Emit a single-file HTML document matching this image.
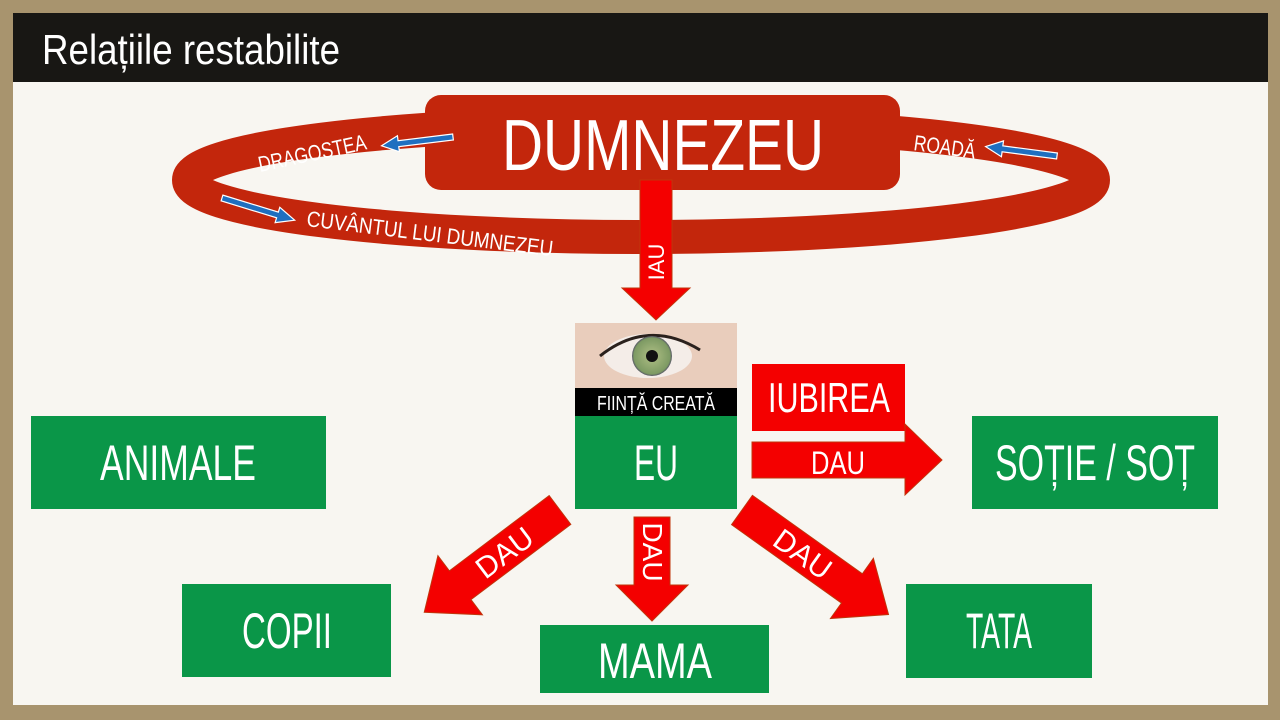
<!DOCTYPE html>
<html><head><meta charset="utf-8"><style>
html,body{margin:0;padding:0;background:#a8946e;}
svg{display:block}
text{font-family:"Liberation Sans Narrow","Liberation Sans",sans-serif;fill:#fff;}
</style></head><body>
<svg width="1280" height="720" viewBox="0 0 1280 720" xmlns="http://www.w3.org/2000/svg">
<defs>
<radialGradient id="eye" cx="0.5" cy="0.5" r="0.5">
<stop offset="0" stop-color="#222"/><stop offset="0.25" stop-color="#333"/><stop offset="0.3" stop-color="#9fb37a"/><stop offset="0.9" stop-color="#7d9a63"/><stop offset="1" stop-color="#556"/>
</radialGradient>
</defs>
<rect width="1280" height="720" fill="#a8946e"/>
<rect x="13" y="13" width="1255" height="692" fill="#f8f6f1"/>
<rect x="13" y="13" width="1255" height="69" fill="#181714"/>
<text x="42" y="64" font-size="42" textLength="298" lengthAdjust="spacingAndGlyphs">Relațiile restabilite</text>

<!-- ellipse ring -->
<ellipse cx="641" cy="180" rx="452" ry="57" fill="none" stroke="#c3260c" stroke-width="34"/>
<rect x="425" y="95" width="475" height="95" rx="16" fill="#c3260c"/>
<text x="663" y="170" font-size="72" text-anchor="middle" textLength="322" lengthAdjust="spacingAndGlyphs">DUMNEZEU</text>

<!-- ring labels -->
<text x="0" y="0" font-size="22" transform="translate(260,172) rotate(-12)" textLength="110" lengthAdjust="spacingAndGlyphs">DRAGOSTEA</text>
<text x="0" y="0" font-size="22" transform="translate(306,226) rotate(7)" textLength="248" lengthAdjust="spacingAndGlyphs">CUVÂNTUL LUI DUMNEZEU</text>
<text x="0" y="0" font-size="22" transform="translate(913,150) rotate(8)" textLength="62" lengthAdjust="spacingAndGlyphs">ROADĂ</text>

<!-- blue arrows -->
<g fill="#1f6fc0" stroke="#fff" stroke-width="1.2">
<polygon points="0,-3 -55,-3 -55,-8 -72,0 -55,8 -55,3 0,3" transform="translate(453,137) rotate(-7)"/>
<polygon points="0,-3 -55,-3 -55,-8 -72,0 -55,8 -55,3 0,3" transform="translate(1057,156) rotate(7.5)"/>
<polygon points="0,-3 58,-3 58,-8 76,0 58,8 58,3 0,3" transform="translate(222,198) rotate(17)"/>
</g>

<!-- IAU arrow -->
<polygon points="640,180 672,180 672,288 690,288 656,320 622,288 640,288" fill="#f40000" stroke="#c0350c" stroke-width="1"/>
<text x="0" y="0" font-size="22" transform="translate(664,262) rotate(-90)" text-anchor="middle">IAU</text>

<!-- eye image -->
<rect x="575" y="323" width="162" height="66" fill="#e9cdbc"/>
<ellipse cx="648" cy="356" rx="44" ry="22" fill="#f4ede8"/>
<path d="M600,356 Q648,318 700,350" stroke="#2a211d" stroke-width="3" fill="none"/>
<circle cx="652" cy="356" r="20" fill="url(#eye)"/>
<circle cx="652" cy="356" r="6" fill="#111"/>
<rect x="575" y="388" width="162" height="28" fill="#000"/>
<text x="656" y="410" font-size="20" text-anchor="middle" textLength="118" lengthAdjust="spacingAndGlyphs">FIINȚĂ CREATĂ</text>
<rect x="575" y="416" width="162" height="93" fill="#0a9648"/>
<text x="656" y="480" font-size="50" text-anchor="middle" textLength="44" lengthAdjust="spacingAndGlyphs">EU</text>

<!-- IUBIREA + DAU arrow -->
<rect x="752" y="364" width="153" height="67" fill="#f40000"/>
<text x="829" y="412" font-size="42" text-anchor="middle" textLength="122" lengthAdjust="spacingAndGlyphs">IUBIREA</text>
<polygon points="752,442 905,442 905,424 942,460 905,495 905,478 752,478" fill="#f40000" stroke="#c0350c" stroke-width="1"/>
<text x="838" y="474" font-size="32" text-anchor="middle" textLength="54" lengthAdjust="spacingAndGlyphs">DAU</text>

<!-- green boxes -->
<rect x="31" y="416" width="295" height="93" fill="#0a9648"/>
<text x="178" y="480" font-size="50" text-anchor="middle" textLength="156" lengthAdjust="spacingAndGlyphs">ANIMALE</text>
<rect x="972" y="416" width="246" height="93" fill="#0a9648"/>
<text x="1095" y="480" font-size="50" text-anchor="middle" textLength="200" lengthAdjust="spacingAndGlyphs">SOȚIE / SOȚ</text>
<rect x="182" y="584" width="209" height="93" fill="#0a9648"/>
<text x="287" y="648" font-size="50" text-anchor="middle" textLength="90" lengthAdjust="spacingAndGlyphs">COPII</text>
<rect x="540" y="625" width="229" height="68" fill="#0a9648"/>
<text x="655" y="678" font-size="50" text-anchor="middle" textLength="114" lengthAdjust="spacingAndGlyphs">MAMA</text>
<rect x="906" y="584" width="186" height="94" fill="#0a9648"/>
<text x="999" y="648" font-size="50" text-anchor="middle" textLength="66" lengthAdjust="spacingAndGlyphs">TATA</text>

<!-- MAMA arrow -->
<polygon points="634,517 670,517 670,585 688,585 652,621 616,585 634,585" fill="#f40000" stroke="#c0350c" stroke-width="1"/>
<text x="0" y="0" font-size="28" transform="translate(643,552) rotate(90)" text-anchor="middle">DAU</text>

<!-- diagonal arrows -->
<g transform="translate(560,510) rotate(143)">
<polygon points="0,-18 125,-18 125,-37 170,0 125,37 125,18 0,18" fill="#f40000" stroke="#c0350c" stroke-width="1"/>
<text x="0" y="0" font-size="30" transform="translate(70,0) rotate(180)" text-anchor="middle" dy="11">DAU</text>
</g>
<g transform="translate(742,510) rotate(35.5)">
<polygon points="0,-18 135,-18 135,-37 180,0 135,37 135,18 0,18" fill="#f40000" stroke="#c0350c" stroke-width="1"/>
<text x="75" y="11" font-size="30" text-anchor="middle">DAU</text>
</g>
</svg>
</body></html>
